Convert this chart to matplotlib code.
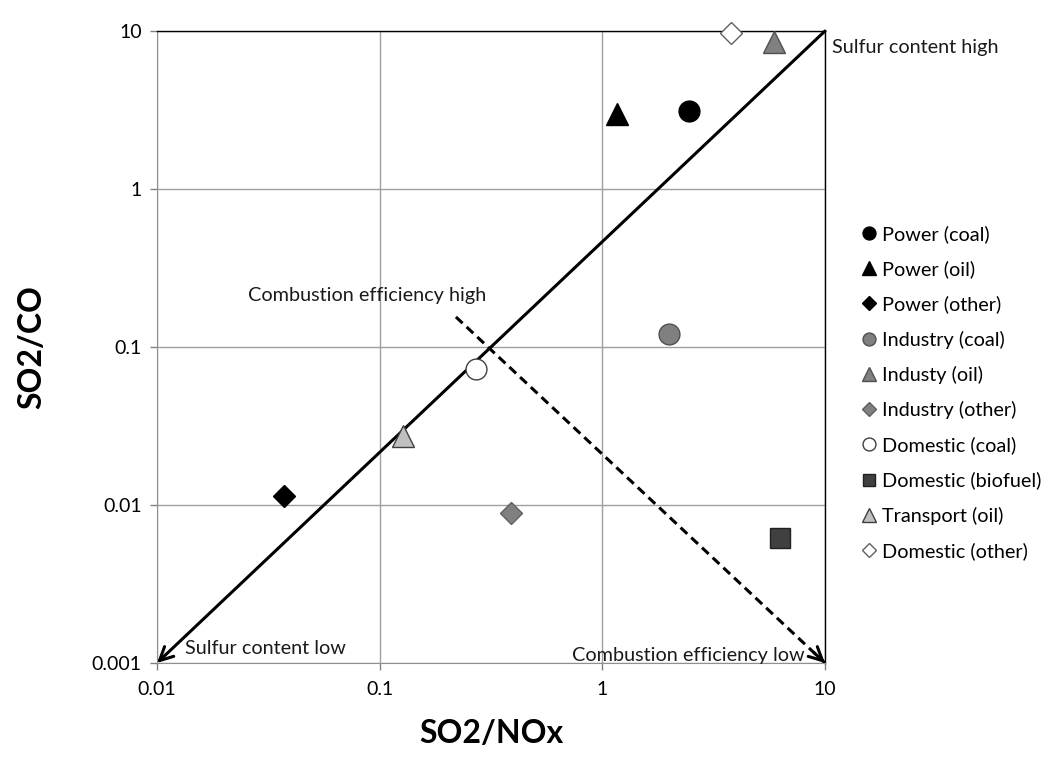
import matplotlib
matplotlib.use("Agg")
import matplotlib.pyplot as plt
import numpy as np

plt.rcParams['font.family'] = ['Lato', 'DejaVu Sans']

labels = ["Power (coal)", "Power (oil)", "Power (other)", "Industry (coal)", "Industy (oil)",
          "Industry (other)", "Domestic (coal)", "Domestic (biofuel)", "Transport (oil)", "Domestic (other)"]
so2_nox = [2.45, 1.16, 0.037, 1.99, 5.9, 0.39, 0.27, 6.3, 0.127, 3.8]
so2_co = [3.1, 3.0, 0.0114, 0.121, 8.5, 0.0089, 0.073, 0.0062, 0.0274, 9.7]
markers = ['o', '^', 'D', 'o', '^', 'D', 'o', 's', '^', 'D']
faces = ['black', 'black', 'black', '#808080', '#808080', '#808080', 'white', '#404040', '#c0c0c0', 'white']
edges = ['black', 'black', 'black', '#505050', '#505050', '#606060', '#404040', '#202020', '#404040', '#606060']
sizes = [15, 16, 11, 15, 16, 11, 15, 15, 16, 11]

# guide arrows (data coordinates)
sulfur_start = (10, 10)
sulfur_end = (0.01, 0.001)
comb_start = (0.22, 0.155)
comb_end = (10, 0.001)

xticks = [0.01, 0.1, 1, 10]
xticklabels = ["0.01", "0.1", "1", "10"]
yticks = [0.001, 0.01, 0.1, 1, 10]
yticklabels = ["0.001", "0.01", "0.1", "1", "10"]

fig = plt.figure(figsize=(10.48, 7.7), dpi=100)
ax = fig.add_axes([0.1498, 0.139, 0.6374, 0.8207])
ax.set_xscale('log')
ax.set_yscale('log')
ax.set_xlim(0.01, 10)
ax.set_ylim(0.001, 10)
ax.set_xticks(xticks)
ax.set_xticklabels(xticklabels)
ax.set_yticks(yticks)
ax.set_yticklabels(yticklabels)
ax.minorticks_off()
ax.grid(True, color='#a0a0a0', linewidth=1)
ax.set_axisbelow(True)
ax.tick_params(axis='both', colors='#808080', labelcolor='black', labelsize=14, length=5, width=1)
ax.tick_params(axis='x', pad=8)
ax.tick_params(axis='y', pad=6)
for s in ['left', 'bottom']:
    ax.spines[s].set_color('#909090')
for s in ['top', 'right']:
    ax.spines[s].set_color('black')
    ax.spines[s].set_linewidth(1)

# solid arrow
ax.annotate('', xy=sulfur_end, xytext=sulfur_start,
            arrowprops=dict(arrowstyle='->', lw=2.2, color='black', mutation_scale=24, shrinkA=0, shrinkB=0))
# dashed arrow: dashed shaft + solid head
ax.plot([comb_start[0], comb_end[0]], [comb_start[1], comb_end[1]], color='black', lw=2.2,
        linestyle=(0, (3, 1.8)), solid_capstyle='butt')
lx = np.log10([comb_start[0], comb_end[0]])
ly = np.log10([comb_start[1], comb_end[1]])
f = 0.97
near = (10 ** (lx[0] + f * (lx[1] - lx[0])), 10 ** (ly[0] + f * (ly[1] - ly[0])))
ax.annotate('', xy=comb_end, xytext=near,
            arrowprops=dict(arrowstyle='->', lw=2.2, color='black', mutation_scale=24, shrinkA=0, shrinkB=0))

for x, y, m, fc, ec, sz, lab in zip(so2_nox, so2_co, markers, faces, edges, sizes, labels):
    ax.plot([x], [y], linestyle='none', marker=m, markersize=sz, markerfacecolor=fc,
            markeredgecolor=ec, markeredgewidth=1, label=lab, clip_on=False, zorder=5)

ax.set_xlabel('SO2/NOx', fontsize=23, fontweight='bold')
ax.set_ylabel('SO2/CO', fontsize=23, fontweight='bold')
ax.yaxis.set_label_coords(-0.165, 0.5)
ax.xaxis.set_label_coords(0.5, -0.088)

tc = '#1a1a1a'
fig.text(832/1048, 1-47/770, 'Sulfur content high', fontsize=14.3, va='center', ha='left', color=tc)
fig.text(185/1048, 1-649/770, 'Sulfur content low', fontsize=14.3, va='center', ha='left', color=tc)
fig.text(248/1048, 1-296/770, 'Combustion efficiency high', fontsize=14.3, va='center', ha='left', color=tc)
fig.text(572/1048, 1-655/770, 'Combustion efficiency low', fontsize=14.3, va='center', ha='left', color=tc)

leg = ax.legend(loc='upper left', bbox_to_anchor=(855/1048, 1-217/770), bbox_transform=fig.transFigure,
                frameon=False, fontsize=14.3, markerscale=0.62, handlelength=0.6, handletextpad=0.35,
                labelspacing=0.87, borderaxespad=0)

fig.savefig('out.png', dpi=100)
